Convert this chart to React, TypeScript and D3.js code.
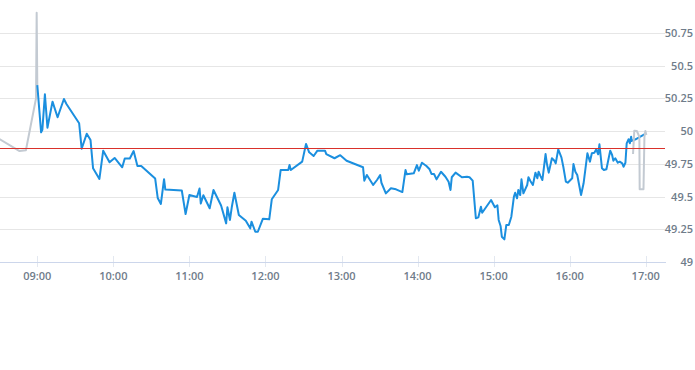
import React from "react";
import * as d3 from "d3";

// Regular session (blue)
const sessionTimes: string[] = [
  "09:00","09:03","09:04","09:06","09:08","09:12","09:16","09:21","09:23","09:33",
  "09:35","09:39","09:42","09:44","09:49","09:52","09:57","10:01","10:07","10:09",
  "10:13","10:16","10:19","10:22","10:33","10:35","10:37:30","10:40","10:41","10:54",
  "10:57","11:00","11:06","11:08","11:09","11:11","11:16","11:19","11:25","11:29",
  "11:30","11:32","11:33:30","11:35:30","11:39","11:44:30","11:48","11:49","11:52","11:54",
  "11:58","12:03","12:05","12:10","12:12","12:18","12:19","12:20","12:29","12:32",
  "12:34:30","12:38","12:41","12:47","12:48","12:54:30","12:59","13:04","13:11","13:17",
  "13:18","13:20","13:25","13:28","13:30:30","13:31:30","13:35","13:39","13:43","13:48",
  "13:50:30","13:51:30","13:57","13:59:30","14:01","14:03:30","14:07","14:09:30","14:11","14:13",
  "14:15","14:18:30","14:22","14:24:30","14:26","14:27","14:30","14:35","14:39","14:41",
  "14:43:30","14:46","14:48","14:50","14:51","14:58","15:01","15:03","15:04","15:05:30",
  "15:06:30","15:08:30","15:10","15:12","15:14","15:16","15:17","15:18:30","15:19:30","15:21",
  "15:22","15:23:30","15:26:30","15:27:30","15:29","15:31","15:33","15:34:30","15:35:30","15:37",
  "15:38:30","15:41","15:42","15:43:30","15:46","15:48","15:49","15:51","15:53:30","15:55",
  "15:57","15:58:30","16:02","16:03","16:04:30","16:06","16:09","16:11","16:14","16:16",
  "16:17:30","16:19:30","16:21","16:22:30","16:23:30","16:25:30","16:27","16:29","16:30:30","16:32",
  "16:33:30","16:34:30","16:36","16:38","16:39:30","16:41:30","16:42:30","16:44","16:45","16:46:30",
  "16:47:30","16:48:30","16:49","16:52","17:00"
];
const sessionValues: number[] = [
  50.35,49.99,50.01,50.28,50.025,50.224,50.105,50.244,50.206,50.059,
  49.865,49.979,49.931,49.715,49.634,49.85,49.761,49.794,49.723,49.79,
  49.79,49.847,49.733,49.733,49.637,49.489,49.443,49.632,49.553,49.546,
  49.366,49.511,49.496,49.561,49.446,49.51,49.41,49.55,49.431,49.295,
  49.418,49.321,49.422,49.529,49.359,49.315,49.257,49.308,49.231,49.231,
  49.331,49.326,49.479,49.55,49.702,49.702,49.74,49.702,49.766,49.901,
  49.837,49.809,49.85,49.85,49.824,49.792,49.815,49.773,49.746,49.723,
  49.621,49.664,49.588,49.626,49.664,49.605,49.524,49.563,49.555,49.534,
  49.702,49.669,49.677,49.74,49.697,49.758,49.733,49.708,49.672,49.672,
  49.631,49.689,49.651,49.613,49.55,49.647,49.682,49.647,49.651,49.647,
  49.621,49.334,49.341,49.422,49.376,49.473,49.418,49.433,49.321,49.275,
  49.193,49.173,49.282,49.282,49.346,49.498,49.529,49.486,49.55,49.511,
  49.631,49.524,49.588,49.647,49.618,49.588,49.682,49.639,49.689,49.656,
  49.626,49.824,49.753,49.682,49.792,49.773,49.753,49.86,49.799,49.727,
  49.613,49.605,49.639,49.748,49.689,49.664,49.511,49.601,49.83,49.766,
  49.83,49.834,49.86,49.822,49.898,49.715,49.702,49.708,49.779,49.85,
  49.817,49.773,49.792,49.758,49.766,49.753,49.727,49.758,49.906,49.937,
  49.906,49.956,49.924,49.937,49.98
];

// Pre-market (grey)
const preTimes: string[] = ["08:30","08:46","08:51","08:59","08:59:30","09:00"];
const preValues: number[] = [49.94,49.847,49.853,50.25,50.903,50.35];

// After-hours (grey)
const postTimes: string[] = ["16:50","16:51","16:53","16:55","16:55:15","16:58:15","16:59","16:59:45","17:00:30"];
const postValues: number[] = [49.824,50.002,50.0,49.956,49.555,49.555,49.956,50.0,49.97];

const previousClose = 49.868;

const yTicks: number[] = [49, 49.25, 49.5, 49.75, 50, 50.25, 50.5, 50.75];
const xTickLabels: string[] = ["09:00","10:00","11:00","12:00","13:00","14:00","15:00","16:00","17:00"];

const W = 695;
const H = 370;
const plotLeft = 0;
const plotRight = 665;
const plotTop = 0;
const plotBottom = 262;

function parseT(s: string): Date {
  const p = s.split(":").map(Number);
  return new Date(2024, 0, 2, p[0], p[1], p[2] || 0);
}

export default function App() {
  const x = d3
    .scaleTime()
    .domain([parseT("09:00"), parseT("17:00")])
    .range([37.3, 645.7]);
  const y = d3.scaleLinear().domain([49, 51]).range([plotBottom, plotTop]);

  const mk = (ts: string[], vs: number[]) => ts.map((t, i) => ({ t: parseT(t), v: vs[i] }));
  const line = d3
    .line<{ t: Date; v: number }>()
    .x((d) => x(d.t))
    .y((d) => y(d.v));

  const session = mk(sessionTimes, sessionValues);
  const pre = mk(preTimes, preValues);
  const post = mk(postTimes, postValues);

  const font = "'Open Sans', 'Noto Sans', sans-serif";
  const labelColor = "#6f7c8a";

  return (
    <svg
      width={W}
      height={H}
      style={{ position: "absolute", left: 0, top: 0, background: "#fff" }}
    >
      <defs>
        <clipPath id="plotClip">
          <rect x={plotLeft} y={plotTop - 5} width={plotRight - plotLeft} height={plotBottom - plotTop + 5} />
        </clipPath>
      </defs>
      {yTicks.slice(1).map((t) => (
        <line
          key={"g" + t}
          x1={plotLeft}
          x2={plotRight}
          y1={Math.round(y(t)) + 0.5}
          y2={Math.round(y(t)) + 0.5}
          stroke="#e6e6e6"
          strokeWidth={1}
        />
      ))}
      {xTickLabels.map((l) => {
        const xx = Math.round(x(parseT(l))) + 0.5;
        return (
          <line key={"t" + l} x1={xx} x2={xx} y1={plotBottom - 6} y2={plotBottom + 5} stroke="#e3e8f0" strokeWidth={1} />
        );
      })}
      <line x1={plotLeft} x2={plotRight + 1} y1={plotBottom + 0.5} y2={plotBottom + 0.5} stroke="#ccd6eb" strokeWidth={1} />
      <g clipPath="url(#plotClip)">
        <path d={line(pre) || ""} fill="none" stroke="#c3cad2" strokeWidth={2} strokeLinejoin="round" />
        <path d={line(session) || ""} fill="none" stroke="#1b8fdf" strokeWidth={2} strokeLinejoin="round" />
        <path d={line(post) || ""} fill="none" stroke="#c3cad2" strokeWidth={2} strokeLinejoin="round" />
      </g>
      <line
        x1={plotLeft}
        x2={plotRight}
        y1={Math.round(y(previousClose)) + 0.5}
        y2={Math.round(y(previousClose)) + 0.5}
        stroke="#d9312b"
        strokeWidth={1}
      />
      {yTicks.map((t) => (
        <text
          key={"yl" + t}
          x={693}
          y={y(t) + 4}
          textAnchor="end"
          fontFamily={font}
          fontSize={11}
          fontWeight={600}
          fill={labelColor}
        >
          {String(t)}
        </text>
      ))}
      {xTickLabels.map((l) => (
        <text
          key={"xl" + l}
          x={x(parseT(l))}
          y={280}
          textAnchor="middle"
          fontFamily={font}
          fontSize={11}
          fontWeight={600}
          fill={labelColor}
        >
          {l}
        </text>
      ))}
    </svg>
  );
}
